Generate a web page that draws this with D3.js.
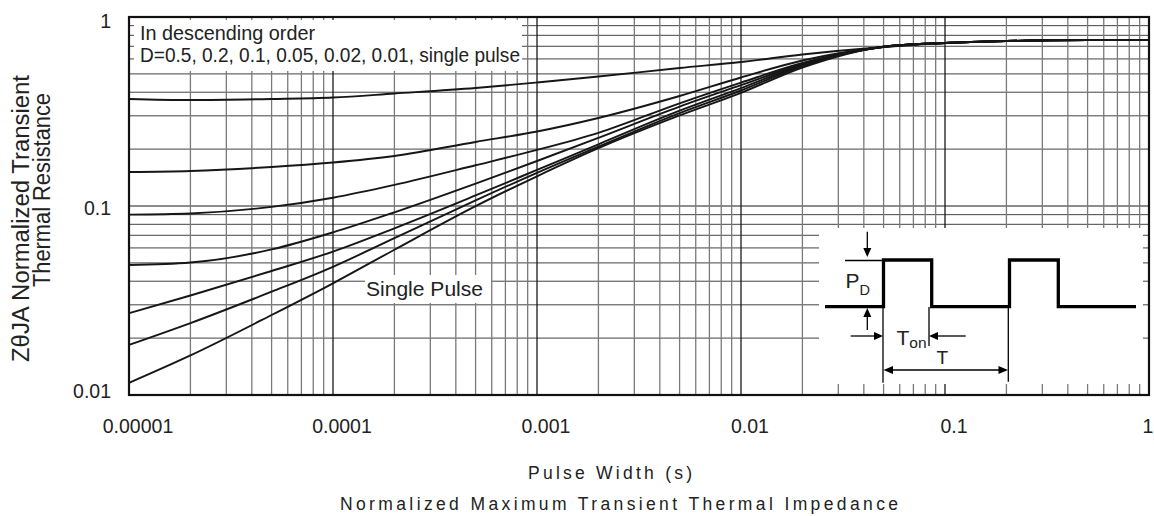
<!DOCTYPE html>
<html>
<head>
<meta charset="utf-8">
<script src="https://cdn.jsdelivr.net/npm/d3@7"></script>
<style>
  html, body { margin: 0; padding: 0; background: #fff; }
  svg { display: block; font-family: "Liberation Sans", Arial, Helvetica, sans-serif; }
</style>
</head>
<body>
<svg id="chart" width="1154" height="516"></svg>
<script>
// ---------------- data ----------------
const pulseWidths = [1e-5, 2e-5, 5e-5, 1e-4, 2e-4, 5e-4, 1e-3, 2e-3, 5e-3, 1e-2, 2e-2, 5e-2, 0.1, 0.2, 0.5, 1];
const dutyLabels = ["D=0.5", "D=0.2", "D=0.1", "D=0.05", "D=0.02", "D=0.01", "single pulse"];
const zD05    = [0.3684, 0.3638, 0.3684, 0.3751, 0.3936, 0.4210, 0.4501, 0.4844, 0.5372, 0.5778, 0.6331, 0.6941, 0.729, 0.746, 0.755, 0.756];
const zD02    = [0.1513, 0.1532, 0.1608, 0.1699, 0.1839, 0.2182, 0.2478, 0.2922, 0.3819, 0.4786, 0.5886, 0.6941, 0.729, 0.746, 0.755, 0.756];
const zD01    = [0.0900, 0.0913, 0.0989, 0.1106, 0.1293, 0.1643, 0.1980, 0.2439, 0.3495, 0.4497, 0.5709, 0.6965, 0.729, 0.746, 0.755, 0.756];
const zD005   = [0.0487, 0.0502, 0.0589, 0.0725, 0.0926, 0.1314, 0.1730, 0.2296, 0.3358, 0.4357, 0.5640, 0.6965, 0.729, 0.746, 0.755, 0.756];
const zD002   = [0.0271, 0.0336, 0.0453, 0.0574, 0.0762, 0.1137, 0.1552, 0.2121, 0.3193, 0.4205, 0.5572, 0.6965, 0.729, 0.746, 0.755, 0.756];
const zD001   = [0.0184, 0.0240, 0.0352, 0.0477, 0.0676, 0.1071, 0.1497, 0.2060, 0.3101, 0.4084, 0.5505, 0.6965, 0.729, 0.746, 0.755, 0.756];
const zSingle = [0.0116, 0.0162, 0.0265, 0.0390, 0.0587, 0.0998, 0.1436, 0.2022, 0.3015, 0.3972, 0.5405, 0.6965, 0.729, 0.746, 0.755, 0.756];

const xTickValues = [1e-5, 1e-4, 1e-3, 1e-2, 1e-1, 1];
const xTickLabels = ["0.00001", "0.0001", "0.001", "0.01", "0.1", "1"];
const yTickValues = [0.01, 0.1, 1];
const yTickLabels = ["0.01", "0.1", "1"];

const legendLine1 = "In descending order";
const legendLine2 = "D=0.5, 0.2, 0.1, 0.05, 0.02, 0.01, single pulse";
const singleLabel = "Single Pulse";
const xTitle = "Pulse Width (s)";
const chartTitle = "Normalized Maximum Transient Thermal Impedance";
const yTitle1 = "ZθJA Normalized Transient";
const yTitle2 = "Thermal Resistance";

// ---------------- layout ----------------
const svg = d3.select("#chart");
const L = 129, R = 1149, T = 17, B = 395;
const x = d3.scaleLog().domain([1e-5, 1]).range([L, R]);
const y = d3.scaleLog().domain([0.01, 1]).range([B, T]);

// gridlines
const xMinor = [], yMinor = [];
for (let e = -5; e < 0; e++) for (let k = 2; k <= 9; k++) xMinor.push(k * Math.pow(10, e));
for (let e = -2; e < 0; e++) for (let k = 2; k <= 9; k++) yMinor.push(k * Math.pow(10, e));

const grid = svg.append("g");
grid.selectAll(".hm").data(yMinor).join("line")
  .attr("x1", L).attr("x2", R).attr("y1", d => y(d)).attr("y2", d => y(d))
  .attr("stroke", "#444").attr("stroke-width", 1);
grid.selectAll(".hM").data([0.1]).join("line")
  .attr("x1", L).attr("x2", R).attr("y1", d => y(d)).attr("y2", d => y(d))
  .attr("stroke", "#1a1a1a").attr("stroke-width", 1);
grid.selectAll(".vm").data(xMinor).join("line")
  .attr("y1", T).attr("y2", B).attr("x1", d => x(d)).attr("x2", d => x(d))
  .attr("stroke", "#7a7a7a").attr("stroke-width", 1.3);
grid.selectAll(".vM").data(xTickValues.slice(1, -1)).join("line")
  .attr("y1", T).attr("y2", B).attr("x1", d => x(d)).attr("x2", d => x(d))
  .attr("stroke", "#1a1a1a").attr("stroke-width", 1.3);

// legend box (covers the gridlines)
svg.append("rect").attr("x", L + 5).attr("y", T + 3).attr("width", 388).attr("height", 51).attr("fill", "#fff");
svg.append("text").attr("x", L + 11).attr("y", T + 23).attr("font-size", 19.5).attr("fill", "#222")
  .attr("textLength", 175).attr("lengthAdjust", "spacingAndGlyphs").text(legendLine1);
svg.append("text").attr("x", L + 11).attr("y", T + 45).attr("font-size", 19.5).attr("fill", "#222")
  .attr("textLength", 380).attr("lengthAdjust", "spacingAndGlyphs").text(legendLine2);

// "Single Pulse" label box
svg.append("rect").attr("x", 365).attr("y", 275).attr("width", 126).attr("height", 28).attr("fill", "#fff");
svg.append("text").attr("x", 366).attr("y", 296).attr("font-size", 20.5).attr("fill", "#222")
  .attr("textLength", 117).attr("lengthAdjust", "spacingAndGlyphs").text(singleLabel);

// curves
const series = [zD05, zD02, zD01, zD005, zD002, zD001, zSingle];
const line = d3.line().x((d, i) => x(pulseWidths[i])).y(d => y(d)).curve(d3.curveMonotoneX);
svg.append("g").selectAll("path").data(series).join("path")
  .attr("d", d => line(d)).attr("fill", "none").attr("stroke", "#161616").attr("stroke-width", 1.9);

// inset diagram (local coordinates relative to inset box)
const ix = 819, iy = 228;
const inset = svg.append("g").attr("transform", `translate(${ix},${iy})`);
inset.append("rect").attr("x", 0).attr("y", 0).attr("width", 324).attr("height", 156).attr("fill", "#fff");
inset.append("path").attr("d", "M6,78.7 H64.5 V32 H112.7 V78.7 H190.5 V32 H239.3 V78.7 H317")
  .attr("fill", "none").attr("stroke", "#000").attr("stroke-width", 3.3);
const thin = [
  [26, 32.5, 64, 32.5], [64, 79, 64, 154.7], [110, 79, 110, 118], [189.3, 79, 189.3, 153.7],
  [48.3, 3.7, 48.3, 22], [48.3, 102, 48.3, 87], [31.7, 108, 57, 108], [146.7, 108, 118, 108],
  [73, 142, 181, 142]
];
inset.selectAll("line").data(thin).join("line")
  .attr("x1", d => d[0]).attr("y1", d => d[1]).attr("x2", d => d[2]).attr("y2", d => d[3])
  .attr("stroke", "#000").attr("stroke-width", 1.3);
const heads = [
  "M48.3,29 L44.3,20 L52.3,20 Z", "M48.3,80 L44.3,89 L52.3,89 Z",
  "M64,108 L55,104 L55,112 Z", "M110,108 L119,104 L119,112 Z",
  "M64.5,142 L74,138 L74,146 Z", "M189,142 L179.5,138 L179.5,146 Z"
];
inset.selectAll("path.h").data(heads).join("path").attr("class", "h").attr("d", d => d).attr("fill", "#000");
const pd = inset.append("text").attr("x", 26.5).attr("y", 60).attr("font-size", 21).attr("fill", "#222");
pd.append("tspan").text("P");
pd.append("tspan").attr("font-size", 14.5).attr("dy", 7).text("D");
const ton = inset.append("text").attr("x", 77.5).attr("y", 117).attr("font-size", 21).attr("fill", "#222");
ton.append("tspan").text("T");
ton.append("tspan").attr("font-size", 15.5).attr("dy", 3).text("on");
inset.append("text").attr("x", 117.5).attr("y", 136).attr("font-size", 19).attr("fill", "#222").text("T");

// frame
svg.append("rect").attr("x", L).attr("y", T).attr("width", R - L).attr("height", B - T)
  .attr("fill", "none").attr("stroke", "#111").attr("stroke-width", 2.2);

// tick labels
svg.append("g").selectAll("text").data(yTickValues).join("text")
  .attr("x", 111).attr("y", d => Math.min(Math.max(y(d) + 2, T + 4), B - 4))
  .attr("text-anchor", "end").attr("dominant-baseline", "central")
  .attr("font-size", 19.5).attr("fill", "#222")
  .text((d, i) => yTickLabels[i]);
svg.append("g").selectAll("text").data(xTickValues).join("text")
  .attr("x", d => Math.min(x(d) + 9, 1148)).attr("y", 433)
  .attr("text-anchor", "middle").attr("font-size", 19.5).attr("fill", "#222")
  .text((d, i) => xTickLabels[i]);

// axis titles
svg.append("text").attr("x", 610).attr("y", 479).attr("text-anchor", "middle").attr("font-size", 17.5)
  .attr("fill", "#222").attr("textLength", 164).attr("lengthAdjust", "spacing").text(xTitle);
svg.append("text").attr("x", 619).attr("y", 510).attr("text-anchor", "middle").attr("font-size", 17.5)
  .attr("fill", "#222").attr("textLength", 558).attr("lengthAdjust", "spacing").text(chartTitle);
svg.append("text").attr("transform", "translate(28.5,218.5) rotate(-90)").attr("text-anchor", "middle")
  .attr("font-size", 23).attr("fill", "#222").attr("textLength", 287).attr("lengthAdjust", "spacingAndGlyphs").text(yTitle1);
svg.append("text").attr("transform", "translate(49.5,190) rotate(-90)").attr("text-anchor", "middle")
  .attr("font-size", 23).attr("fill", "#222").attr("textLength", 194).attr("lengthAdjust", "spacingAndGlyphs").text(yTitle2);
</script>
</body>
</html>
